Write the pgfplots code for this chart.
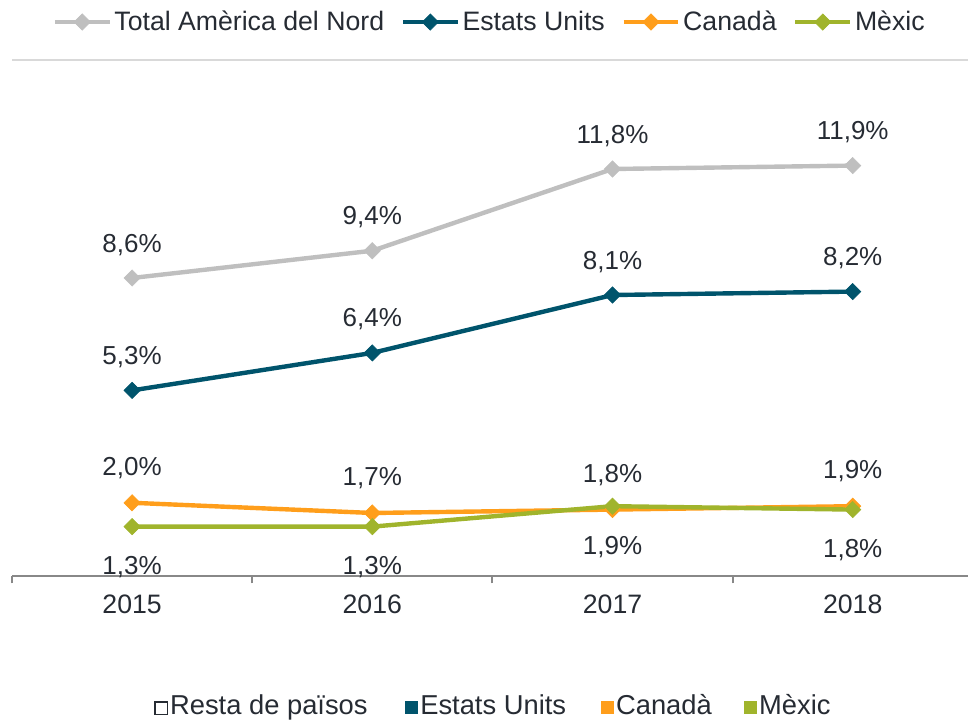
\documentclass[border=0pt]{standalone}
\usepackage{pgfplots}
\pgfplotsset{compat=1.18}
\usepackage{fontspec}
\setmainfont{Liberation Sans}
\definecolor{cTot}{HTML}{BFBFBF}
\definecolor{cUS}{HTML}{00546C}
\definecolor{cCA}{HTML}{FF9E1B}
\definecolor{cMX}{HTML}{A0B42C}
\definecolor{cText}{HTML}{262B33}
\definecolor{cAxis}{HTML}{888888}
\definecolor{cGrid}{HTML}{D9D9D9}
\begin{document}
\begin{tikzpicture}
\begin{axis}[
  name=ax, scale only axis,
  width=717pt, height=387pt,
  xmin=-0.5, xmax=3.48, ymin=-0.15, ymax=15,
  clip=false,
  /pgf/number format/assume math mode=true,
  axis x line*=bottom, axis y line=none,
  axis line style={cAxis, line width=1.5pt},
  xtick={0,1,2,3}, xticklabels={2015,2016,2017,2018},
  major tick length=0pt,
  minor xtick={-0.5,0.5,1.5,2.5},
  minor tick length=5.6pt,
  tick align=outside,
  tick style={cAxis, line width=1.5pt},
  xticklabel style={text=cText, font=\fontsize{20}{24}\selectfont, yshift=-10.5pt},
  every node near coord/.append style={text=cText, font=\fontsize{19.5}{23}\selectfont, anchor=center},
  nodes near coords={\pgfmathprintnumber[fixed,fixed zerofill,precision=1,use comma,assume math mode=true]{\pgfplotspointmeta}\%},
  point meta=y,
  legend columns=4,
  legend style={at={(0.5,1.0736)}, anchor=center, draw=none, fill=none,
    font=\fontsize{20}{24}\selectfont, text=cText,
    /tikz/every even column/.append style={column sep=10.5pt},
    inner sep=0pt},
  legend image code/.code={\draw[mark repeat=2,mark phase=2,#1] plot coordinates {(0pt,0pt) (20.5pt,0pt) (41pt,0pt)};},
]
\coordinate (sw) at (rel axis cs:0,0);
\draw[cGrid, line width=1.5pt] (rel axis cs:0,1) -- (rel axis cs:1,1);
\addplot[cTot, line width=3.3pt, mark=square*, mark size=4.3pt, mark options={rotate=45, line width=0.5pt},
  every node near coord/.append style={yshift=25pt}]
  coordinates {(0,8.6) (1,9.4) (2,11.8) (3,11.9)};
\addlegendentry{Total Amèrica del Nord}
\addplot[cUS, line width=3.3pt, mark=square*, mark size=4.3pt, mark options={rotate=45, line width=0.5pt},
  every node near coord/.append style={yshift=25pt}]
  coordinates {(0,5.3) (1,6.4) (2,8.1) (3,8.2)};
\addlegendentry{Estats Units}
\addplot[cCA, line width=3.3pt, mark=square*, mark size=4.3pt, mark options={rotate=45, line width=0.5pt},
  every node near coord/.append style={yshift=26pt}]
  coordinates {(0,2.0) (1,1.7) (2,1.8) (3,1.9)};
\addlegendentry{Canadà}
\addplot[cMX, line width=3.3pt, mark=square*, mark size=4.3pt, mark options={rotate=45, line width=0.5pt},
  every node near coord/.append style={yshift=-30.5pt}]
  coordinates {(0,1.3) (1,1.3) (2,1.9) (3,1.8)};
\addlegendentry{Mèxic}
\end{axis}
\pgfresetboundingbox
\useasboundingbox ([shift={(-9pt,-107.25pt)}]sw) rectangle ++(726pt,539.25pt);
\node[anchor=base, text=cText, font=\fontsize{20.5}{24}\selectfont, inner sep=0pt] at ([shift={(360.4pt,-103.5pt)}]sw) {%
  {\fboxsep=0pt\fboxrule=0.8pt\fbox{\rule{0pt}{8.6pt}\rule{8.6pt}{0pt}}}\hspace{1.5pt}Resta de països\hspace{28pt}%
  \textcolor{cUS}{\rule{10pt}{10pt}}\hspace{1.5pt}Estats Units\hspace{26pt}%
  \textcolor{cCA}{\rule{10pt}{10pt}}\hspace{1.5pt}Canadà\hspace{24pt}%
  \textcolor{cMX}{\rule{10pt}{10pt}}\hspace{1.5pt}Mèxic};
\end{tikzpicture}
\end{document}
